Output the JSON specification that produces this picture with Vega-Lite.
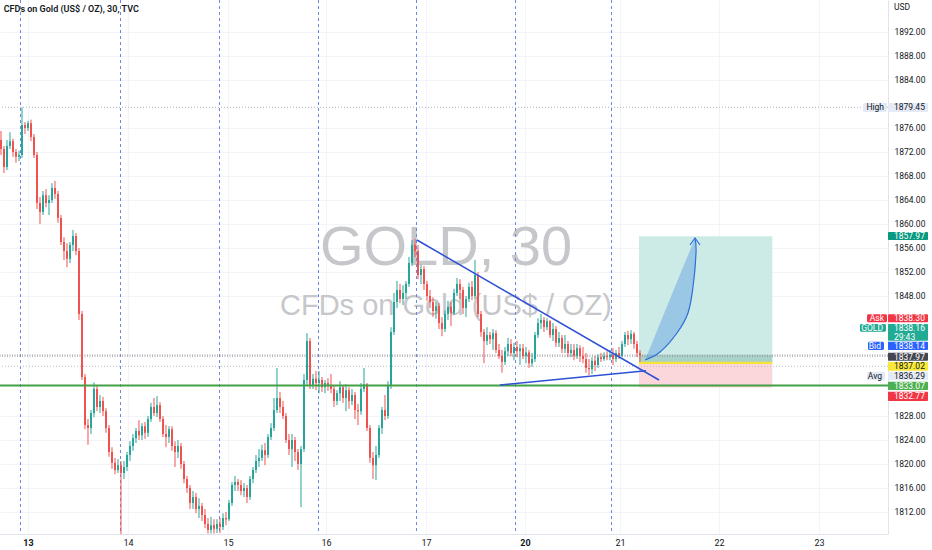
{
"$schema": "https://vega.github.io/schema/vega-lite/v6.json",
"width": 888, "height": 534, "padding": {"left":0,"top":0,"right":44,"bottom":16}, "autosize": {"type": "none"},
"background": "#ffffff",
"config": {
 "view": {"stroke": null},
 "font": "Roboto",
 "scale": {"continuousPadding": 0},
 "axisX": {"ticks": false, "domainColor": "#e0e3eb", "grid": true, "gridColor": "#f2f4f8", "labelFontSize": 9, "labelColor": "#131722", "labelPadding": 4, "labelFont": "Roboto", "labelOverlap": false, "labelFlush": false},
 "axisY": {"ticks": false, "domainColor": "#e0e3eb", "grid": true, "gridColor": "#f2f4f8", "labelFontSize": 8.5, "labelColor": "#131722", "labelPadding": 6, "labelFont": "Roboto", "labelOverlap": false, "labelFlush": false}
},
"datasets": {
 "candles": [
 {"i":0,"o":1874,"h":1875.5,"l":1871.5,"c":1872.5},
 {"i":1,"o":1872.5,"h":1873,"l":1868.5,"c":1869.5},
 {"i":2,"o":1869.5,"h":1874,"l":1869,"c":1873},
 {"i":3,"o":1873,"h":1875.3,"l":1872.5,"c":1873.8},
 {"i":4,"o":1873.8,"h":1874.2,"l":1871.2,"c":1872},
 {"i":5,"o":1872,"h":1872.5,"l":1870.2,"c":1871.2},
 {"i":6,"o":1871.2,"h":1872.2,"l":1870.5,"c":1871.5},
 {"i":7,"o":1871.5,"h":1879.45,"l":1871,"c":1876.5},
 {"i":8,"o":1876.5,"h":1877,"l":1875,"c":1876},
 {"i":9,"o":1876,"h":1877.2,"l":1875.5,"c":1876.8},
 {"i":10,"o":1876.8,"h":1877.4,"l":1873.8,"c":1874.5},
 {"i":11,"o":1874.5,"h":1875,"l":1871,"c":1871.5},
 {"i":12,"o":1871.5,"h":1872,"l":1862.5,"c":1863.5},
 {"i":13,"o":1863.5,"h":1864.5,"l":1860,"c":1862},
 {"i":14,"o":1862,"h":1865.5,"l":1861.5,"c":1864.8},
 {"i":15,"o":1864.8,"h":1865.8,"l":1862.8,"c":1863.5},
 {"i":16,"o":1863.5,"h":1864.8,"l":1861.5,"c":1864},
 {"i":17,"o":1864,"h":1866.8,"l":1863.5,"c":1866},
 {"i":18,"o":1866,"h":1867.2,"l":1864.2,"c":1865},
 {"i":19,"o":1865,"h":1865.5,"l":1860.2,"c":1861},
 {"i":20,"o":1861,"h":1861.5,"l":1856.5,"c":1857},
 {"i":21,"o":1857,"h":1857.8,"l":1854,"c":1855.5},
 {"i":22,"o":1855.5,"h":1856.8,"l":1852.8,"c":1854.2},
 {"i":23,"o":1854.2,"h":1857,"l":1853.5,"c":1856.5},
 {"i":24,"o":1856.5,"h":1859,"l":1855.5,"c":1858},
 {"i":25,"o":1858,"h":1858.5,"l":1854.8,"c":1855.5},
 {"i":26,"o":1855.5,"h":1856,"l":1844,"c":1845},
 {"i":27,"o":1845,"h":1845.5,"l":1834,"c":1834.5},
 {"i":28,"o":1834.5,"h":1835,"l":1825.8,"c":1826.5},
 {"i":29,"o":1826.5,"h":1827.5,"l":1823.2,"c":1826},
 {"i":30,"o":1826,"h":1829,"l":1825,"c":1828.5},
 {"i":31,"o":1828.5,"h":1833.6,"l":1827.8,"c":1832.5},
 {"i":32,"o":1832.5,"h":1833,"l":1828.8,"c":1829.5},
 {"i":33,"o":1829.5,"h":1831.5,"l":1828.5,"c":1830.5},
 {"i":34,"o":1830.5,"h":1831.2,"l":1828,"c":1828.8},
 {"i":35,"o":1828.8,"h":1829.3,"l":1825.2,"c":1826},
 {"i":36,"o":1826,"h":1826.5,"l":1821.2,"c":1822},
 {"i":37,"o":1822,"h":1822.8,"l":1819.2,"c":1820.2},
 {"i":38,"o":1820.2,"h":1821,"l":1818.3,"c":1819},
 {"i":39,"o":1819,"h":1820.8,"l":1818.5,"c":1819.8},
 {"i":40,"o":1819.8,"h":1820.5,"l":1808.3,"c":1818.5},
 {"i":41,"o":1818.5,"h":1820.5,"l":1817.5,"c":1819.5},
 {"i":42,"o":1819.5,"h":1822,"l":1818.8,"c":1821.5},
 {"i":43,"o":1821.5,"h":1823.8,"l":1820.5,"c":1823},
 {"i":44,"o":1823,"h":1825,"l":1822.2,"c":1824.3},
 {"i":45,"o":1824.3,"h":1826,"l":1823.5,"c":1825.5},
 {"i":46,"o":1825.5,"h":1827.3,"l":1824,"c":1824.8},
 {"i":47,"o":1824.8,"h":1826.8,"l":1824,"c":1826.3},
 {"i":48,"o":1826.3,"h":1827,"l":1824.2,"c":1825.2},
 {"i":49,"o":1825.2,"h":1828,"l":1824.5,"c":1827.5},
 {"i":50,"o":1827.5,"h":1830.2,"l":1827,"c":1829.5},
 {"i":51,"o":1829.5,"h":1831,"l":1828,"c":1828.5},
 {"i":52,"o":1828.5,"h":1831.3,"l":1827.8,"c":1829.8},
 {"i":53,"o":1829.8,"h":1830.3,"l":1827,"c":1827.5},
 {"i":54,"o":1827.5,"h":1828,"l":1824.5,"c":1825},
 {"i":55,"o":1825,"h":1826.5,"l":1822.8,"c":1824.5},
 {"i":56,"o":1824.5,"h":1826.3,"l":1823.5,"c":1825.8},
 {"i":57,"o":1825.8,"h":1826.3,"l":1822.2,"c":1823},
 {"i":58,"o":1823,"h":1823.8,"l":1819.5,"c":1822},
 {"i":59,"o":1822,"h":1824,"l":1821,"c":1823},
 {"i":60,"o":1823,"h":1823.5,"l":1819.2,"c":1820},
 {"i":61,"o":1820,"h":1820.5,"l":1816.8,"c":1817.5},
 {"i":62,"o":1817.5,"h":1818,"l":1815.2,"c":1816},
 {"i":63,"o":1816,"h":1816.5,"l":1812.5,"c":1813.5},
 {"i":64,"o":1813.5,"h":1815.5,"l":1812.5,"c":1814.5},
 {"i":65,"o":1814.5,"h":1815.2,"l":1811.8,"c":1812.5},
 {"i":66,"o":1812.5,"h":1814.3,"l":1811,"c":1813},
 {"i":67,"o":1813,"h":1813.5,"l":1810.5,"c":1811.5},
 {"i":68,"o":1811.5,"h":1812.5,"l":1809.3,"c":1810},
 {"i":69,"o":1810,"h":1811,"l":1808.4,"c":1809},
 {"i":70,"o":1809,"h":1811.2,"l":1808.4,"c":1809.8},
 {"i":71,"o":1809.8,"h":1810.8,"l":1808.4,"c":1809.2},
 {"i":72,"o":1809.2,"h":1810.8,"l":1808.5,"c":1810},
 {"i":73,"o":1810,"h":1811,"l":1808.5,"c":1809.5},
 {"i":74,"o":1809.5,"h":1811.8,"l":1809,"c":1811},
 {"i":75,"o":1811,"h":1812,"l":1809.8,"c":1810.8},
 {"i":76,"o":1810.8,"h":1814,"l":1810.5,"c":1813.5},
 {"i":77,"o":1813.5,"h":1817,"l":1813,"c":1816.5},
 {"i":78,"o":1816.5,"h":1818,"l":1815.5,"c":1817},
 {"i":79,"o":1817,"h":1817.5,"l":1815.5,"c":1816.5},
 {"i":80,"o":1816.5,"h":1817.3,"l":1814.8,"c":1815.5},
 {"i":81,"o":1815.5,"h":1816.8,"l":1814.5,"c":1816},
 {"i":82,"o":1816,"h":1816.5,"l":1813.5,"c":1814.5},
 {"i":83,"o":1814.5,"h":1818,"l":1814,"c":1817.5},
 {"i":84,"o":1817.5,"h":1819.5,"l":1816.8,"c":1819},
 {"i":85,"o":1819,"h":1821.5,"l":1818.5,"c":1820.5},
 {"i":86,"o":1820.5,"h":1822.5,"l":1819.5,"c":1821},
 {"i":87,"o":1821,"h":1823.2,"l":1820.5,"c":1822.3},
 {"i":88,"o":1822.3,"h":1823.5,"l":1819.8,"c":1821.5},
 {"i":89,"o":1821.5,"h":1825,"l":1821,"c":1824.5},
 {"i":90,"o":1824.5,"h":1826.8,"l":1824,"c":1826},
 {"i":91,"o":1826,"h":1831,"l":1825.5,"c":1829},
 {"i":92,"o":1829,"h":1836,"l":1828.5,"c":1831},
 {"i":93,"o":1831,"h":1832,"l":1828.5,"c":1829.5},
 {"i":94,"o":1829.5,"h":1830.5,"l":1827.5,"c":1828},
 {"i":95,"o":1828,"h":1828.5,"l":1823.5,"c":1824},
 {"i":96,"o":1824,"h":1825,"l":1821.5,"c":1822.5},
 {"i":97,"o":1822.5,"h":1825,"l":1819.5,"c":1824},
 {"i":98,"o":1824,"h":1824.5,"l":1820.5,"c":1822},
 {"i":99,"o":1822,"h":1822.5,"l":1819,"c":1820},
 {"i":100,"o":1820,"h":1823,"l":1812.8,"c":1822.5},
 {"i":101,"o":1822.5,"h":1835,"l":1822,"c":1834},
 {"i":102,"o":1834,"h":1841.8,"l":1833,"c":1840.5},
 {"i":103,"o":1840.5,"h":1841,"l":1832.5,"c":1833},
 {"i":104,"o":1833,"h":1835,"l":1832.5,"c":1834.2},
 {"i":105,"o":1834.2,"h":1835.5,"l":1832.3,"c":1833.5},
 {"i":106,"o":1833.5,"h":1835.5,"l":1831.8,"c":1834},
 {"i":107,"o":1834,"h":1834.5,"l":1832,"c":1832.8},
 {"i":108,"o":1832.8,"h":1834,"l":1831.8,"c":1833.5},
 {"i":109,"o":1833.5,"h":1834.3,"l":1832.2,"c":1833},
 {"i":110,"o":1833,"h":1835,"l":1831.8,"c":1832.5},
 {"i":111,"o":1832.5,"h":1833,"l":1829.5,"c":1830.5},
 {"i":112,"o":1830.5,"h":1832.3,"l":1829.8,"c":1831.8},
 {"i":113,"o":1831.8,"h":1833.8,"l":1830.5,"c":1832.8},
 {"i":114,"o":1832.8,"h":1833,"l":1830.2,"c":1831},
 {"i":115,"o":1831,"h":1833.3,"l":1828.8,"c":1832.3},
 {"i":116,"o":1832.3,"h":1832.8,"l":1829.2,"c":1830.5},
 {"i":117,"o":1830.5,"h":1832.5,"l":1829.8,"c":1831.5},
 {"i":118,"o":1831.5,"h":1832,"l":1827.5,"c":1829},
 {"i":119,"o":1829,"h":1830,"l":1826.5,"c":1828.8},
 {"i":120,"o":1828.8,"h":1833.5,"l":1828.2,"c":1832.5},
 {"i":121,"o":1832.5,"h":1836,"l":1832,"c":1833.3},
 {"i":122,"o":1833.3,"h":1833.5,"l":1825.5,"c":1826},
 {"i":123,"o":1826,"h":1826.5,"l":1820.2,"c":1821},
 {"i":124,"o":1821,"h":1822,"l":1817.5,"c":1819.8},
 {"i":125,"o":1819.8,"h":1823,"l":1817.3,"c":1821.5},
 {"i":126,"o":1821.5,"h":1826.5,"l":1821,"c":1826},
 {"i":127,"o":1826,"h":1829.5,"l":1825,"c":1829},
 {"i":128,"o":1829,"h":1831.5,"l":1827.3,"c":1828},
 {"i":129,"o":1828,"h":1833.8,"l":1827.5,"c":1833},
 {"i":130,"o":1833,"h":1842.8,"l":1832.5,"c":1842},
 {"i":131,"o":1842,"h":1848.5,"l":1841.5,"c":1847},
 {"i":132,"o":1847,"h":1850.5,"l":1846,"c":1849},
 {"i":133,"o":1849,"h":1850,"l":1846.8,"c":1847.5},
 {"i":134,"o":1847.5,"h":1849.8,"l":1846.5,"c":1848.5},
 {"i":135,"o":1848.5,"h":1850.5,"l":1847.5,"c":1850},
 {"i":136,"o":1850,"h":1854.5,"l":1849.5,"c":1853.5},
 {"i":137,"o":1853.5,"h":1857.3,"l":1853,"c":1856.5},
 {"i":138,"o":1856.5,"h":1857.5,"l":1854.5,"c":1855.5},
 {"i":139,"o":1855.5,"h":1856.5,"l":1850.8,"c":1851.5},
 {"i":140,"o":1851.5,"h":1853.2,"l":1850,"c":1852.5},
 {"i":141,"o":1852.5,"h":1853,"l":1849,"c":1850},
 {"i":142,"o":1850,"h":1850.5,"l":1847.2,"c":1848},
 {"i":143,"o":1848,"h":1849,"l":1846,"c":1847},
 {"i":144,"o":1847,"h":1847.8,"l":1844.5,"c":1845.5},
 {"i":145,"o":1845.5,"h":1847,"l":1844.2,"c":1846.3},
 {"i":146,"o":1846.3,"h":1846.8,"l":1842.5,"c":1843.5},
 {"i":147,"o":1843.5,"h":1844.5,"l":1841.3,"c":1842.5},
 {"i":148,"o":1842.5,"h":1845.6,"l":1842,"c":1845},
 {"i":149,"o":1845,"h":1847.2,"l":1844,"c":1846.2},
 {"i":150,"o":1846.2,"h":1847,"l":1843,"c":1845.2},
 {"i":151,"o":1845.2,"h":1849.2,"l":1844.8,"c":1848.5},
 {"i":152,"o":1848.5,"h":1851,"l":1848,"c":1850},
 {"i":153,"o":1850,"h":1850.8,"l":1847.5,"c":1849},
 {"i":154,"o":1849,"h":1849.5,"l":1845,"c":1846},
 {"i":155,"o":1846,"h":1848,"l":1844.5,"c":1847.5},
 {"i":156,"o":1847.5,"h":1850.2,"l":1847,"c":1849.5},
 {"i":157,"o":1849.5,"h":1850.5,"l":1847.3,"c":1848},
 {"i":158,"o":1848,"h":1854,"l":1847.5,"c":1851.5},
 {"i":159,"o":1851.5,"h":1852,"l":1844.5,"c":1845},
 {"i":160,"o":1845,"h":1845.5,"l":1841.2,"c":1842},
 {"i":161,"o":1842,"h":1842.5,"l":1836.8,"c":1840.5},
 {"i":162,"o":1840.5,"h":1842.8,"l":1839.8,"c":1841.5},
 {"i":163,"o":1841.5,"h":1842,"l":1840,"c":1840.8},
 {"i":164,"o":1840.8,"h":1842.5,"l":1839,"c":1841.8},
 {"i":165,"o":1841.8,"h":1842.3,"l":1838.5,"c":1839},
 {"i":166,"o":1839,"h":1840,"l":1837.5,"c":1838},
 {"i":167,"o":1838,"h":1839,"l":1835.2,"c":1837},
 {"i":168,"o":1837,"h":1839.5,"l":1836.5,"c":1838.8},
 {"i":169,"o":1838.8,"h":1841,"l":1838,"c":1840},
 {"i":170,"o":1840,"h":1840.8,"l":1838,"c":1838.5},
 {"i":171,"o":1838.5,"h":1840.2,"l":1837.3,"c":1839.5},
 {"i":172,"o":1839.5,"h":1840.5,"l":1837.8,"c":1838.8},
 {"i":173,"o":1838.8,"h":1840,"l":1836.5,"c":1839.3},
 {"i":174,"o":1839.3,"h":1840,"l":1837.5,"c":1838},
 {"i":175,"o":1838,"h":1839.5,"l":1836.8,"c":1838.6},
 {"i":176,"o":1838.6,"h":1839,"l":1836,"c":1836.8},
 {"i":177,"o":1836.8,"h":1838.5,"l":1836.2,"c":1837.5},
 {"i":178,"o":1837.5,"h":1842,"l":1837,"c":1841.5},
 {"i":179,"o":1841.5,"h":1844.3,"l":1841,"c":1843.5},
 {"i":180,"o":1843.5,"h":1845,"l":1842.5,"c":1844},
 {"i":181,"o":1844,"h":1844.5,"l":1842,"c":1842.8},
 {"i":182,"o":1842.8,"h":1844.3,"l":1842.3,"c":1843.8},
 {"i":183,"o":1843.8,"h":1844,"l":1841,"c":1841.5},
 {"i":184,"o":1841.5,"h":1843.5,"l":1840.5,"c":1842.5},
 {"i":185,"o":1842.5,"h":1843,"l":1839.5,"c":1840.2},
 {"i":186,"o":1840.2,"h":1842,"l":1839.5,"c":1841},
 {"i":187,"o":1841,"h":1841.5,"l":1838.5,"c":1839.2},
 {"i":188,"o":1839.2,"h":1841.5,"l":1838.5,"c":1840},
 {"i":189,"o":1840,"h":1840.5,"l":1837.8,"c":1838.5},
 {"i":190,"o":1838.5,"h":1840,"l":1837.8,"c":1839},
 {"i":191,"o":1839,"h":1840,"l":1837.3,"c":1838},
 {"i":192,"o":1838,"h":1840,"l":1837.5,"c":1839.3},
 {"i":193,"o":1839.3,"h":1839.8,"l":1837,"c":1838},
 {"i":194,"o":1838,"h":1839.5,"l":1836.8,"c":1837.5},
 {"i":195,"o":1837.5,"h":1838.5,"l":1835.2,"c":1836},
 {"i":196,"o":1836,"h":1837.5,"l":1834.8,"c":1835.8},
 {"i":197,"o":1835.8,"h":1837.8,"l":1835,"c":1837.2},
 {"i":198,"o":1837.2,"h":1838,"l":1835.5,"c":1836.5},
 {"i":199,"o":1836.5,"h":1838.3,"l":1836,"c":1837.8},
 {"i":200,"o":1837.8,"h":1838.5,"l":1837,"c":1837.5},
 {"i":201,"o":1837.5,"h":1838.6,"l":1837.2,"c":1838},
 {"i":202,"o":1838,"h":1838.8,"l":1837.3,"c":1837.8},
 {"i":203,"o":1837.8,"h":1839,"l":1837.3,"c":1838.2},
 {"i":204,"o":1838.2,"h":1839.3,"l":1836.5,"c":1837.5},
 {"i":205,"o":1837.5,"h":1839,"l":1837,"c":1838.5},
 {"i":206,"o":1838.5,"h":1839.5,"l":1837.5,"c":1838},
 {"i":207,"o":1838,"h":1840.5,"l":1837.8,"c":1840},
 {"i":208,"o":1840,"h":1842,"l":1839.5,"c":1841.5},
 {"i":209,"o":1841.5,"h":1842.2,"l":1839.8,"c":1840.8},
 {"i":210,"o":1840.8,"h":1842.3,"l":1840,"c":1841.7},
 {"i":211,"o":1841.7,"h":1842,"l":1839.2,"c":1840},
 {"i":212,"o":1840,"h":1840.5,"l":1837.8,"c":1838.5},
 {"i":213,"o":1838.5,"h":1839,"l":1837,"c":1838.16}
 ],
 "tags": [
 {"n":"high","lo":1878.67,"hi":1880.17,"tp":1879.42,"txt":"1879.45"},
 {"n":"tp","lo":1857.33,"hi":1858.67,"tp":1858.0,"txt":"1857.97"},
 {"n":"ask","lo":1843.62,"hi":1844.95,"tp":1844.28,"txt":"1838.30"},
 {"n":"gold","lo":1840.55,"hi":1843.33,"tp":1842.62,"txt":"1838.16"},
 {"n":"bid","lo":1839.0,"hi":1840.38,"tp":1839.69,"txt":"1838.14"},
 {"n":"last","lo":1837.22,"hi":1838.55,"tp":1837.88,"txt":"1837.97"},
 {"n":"entry","lo":1835.55,"hi":1837.0,"tp":1836.28,"txt":"1837.02"},
 {"n":"avg","lo":1833.95,"hi":1835.38,"tp":1834.67,"txt":"1836.29"},
 {"n":"line","lo":1832.33,"hi":1833.72,"tp":1833.02,"txt":"1833.07"},
 {"n":"stop","lo":1830.5,"hi":1832.05,"tp":1831.27,"txt":"1832.77"}
 ],
 "tagtext2": [
 {"n":"gold","tp":1841.2,"txt":"29:43"}
 ],
 "leftlabels": [
 {"n":"high","lo":1878.67,"hi":1880.17,"tp":1879.42,"a":287.33,"b":295.33,"txt":"High"},
 {"n":"ask","lo":1843.62,"hi":1844.95,"tp":1844.28,"a":288.67,"b":295.33,"txt":"Ask"},
 {"n":"gold","lo":1842.05,"hi":1843.33,"tp":1842.69,"a":286.33,"b":295.0,"txt":"GOLD"},
 {"n":"bid","lo":1839.0,"hi":1840.38,"tp":1839.69,"a":289.0,"b":294.33,"txt":"Bid"},
 {"n":"avg","lo":1833.95,"hi":1835.38,"tp":1834.67,"a":288.67,"b":294.67,"txt":"Avg"}
 ],
 "arrow": [
 {"k":0,"p":1837.33,"xl":214.67,"xr":214.67},
 {"k":1,"p":1838.67,"xl":215.77,"xr":219.67},
 {"k":2,"p":1841.83,"xl":218.37,"xr":225.33},
 {"k":3,"p":1845.17,"xl":221.1,"xr":229.0},
 {"k":4,"p":1849.5,"xl":224.63,"xr":230.67},
 {"k":5,"p":1855.17,"xl":229.3,"xr":231.67},
 {"k":6,"p":1857.67,"xl":231.33,"xr":231.33}
 ]
},
"layer": [
 {"data": {"values": [{"i":148.33,"p":1856.0,"t":"GOLD, 30"}]},
  "mark": {"type":"text","font":"Liberation Sans","fontSize":56,"color":"#c6c7ca","align":"center","baseline":"middle"},
  "encoding": {
   "x": {"field":"i","type":"quantitative","title":null,"scale":{"domain":[-0.3333,295.6667],"nice":false,"zero":false,"padding":0},
     "axis":{"values":[9,42.33,75.67,108.33,141.67,174.67,206.33,239.33,272.67],"labelOverlap":false,"tickCount":40,
       "labelExpr":"datum.value<20?'13':datum.value<60?'14':datum.value<90?'15':datum.value<120?'16':datum.value<160?'17':datum.value<190?'20':datum.value<220?'21':datum.value<250?'22':'23'",
       "labelFontWeight":{"condition":{"test":"datum.value<20 || (datum.value>170 && datum.value<180)","value":"bold"},"value":"normal"}}},
   "y": {"field":"p","type":"quantitative","title":null,"scale":{"domain":[1808.3333,1897.3333],"nice":false,"zero":false,"padding":0},
     "axis":{"orient":"right","values":[1812,1816,1820,1824,1828,1848,1852,1856,1860,1864,1868,1872,1876,1884,1888,1892],"format":".2f","labelOverlap":false,"tickCount":40}},
   "text": {"field":"t"}
  }},
 {"data": {"values": [{"i":148.33,"p":1846.4,"t":"CFDs on Gold (US$ / OZ)"}]},
  "mark": {"type":"text","font":"Liberation Sans","fontSize":29,"color":"#c6c7ca","align":"center","baseline":"middle"},
  "encoding": {"x":{"field":"i","type":"quantitative","title":null},"y":{"field":"p","type":"quantitative","title":null},"text":{"field":"t"}}},
 {"data": {"values": [{"i":6.5},{"i":39.83},{"i":72.83},{"i":105.83},{"i":138.5},{"i":171.5},{"i":203.5}]},
  "mark": {"type":"rule","color":"#6d86e0","strokeWidth":1,"strokeDash":[3,3]},
  "encoding": {"x":{"field":"i","type":"quantitative","title":null}}},
 {"data": {"values": [{"a":212.67,"b":257.1,"lo":1837.02,"hi":1857.97}]},
  "mark": {"type":"rect","color":"#cdebe6"},
  "encoding": {"x":{"field":"a","type":"quantitative","title":null},"x2":{"field":"b"},"y":{"field":"lo","type":"quantitative","title":null},"y2":{"field":"hi"}}},
 {"data": {"values": [{"a":212.67,"b":257.1,"lo":1837.02,"hi":1838.16}]},
  "mark": {"type":"rect","color":"#a9d3ca"},
  "encoding": {"x":{"field":"a","type":"quantitative","title":null},"x2":{"field":"b"},"y":{"field":"lo","type":"quantitative","title":null},"y2":{"field":"hi"}}},
 {"data": {"values": [{"a":212.67,"b":257.1,"lo":1832.77,"hi":1837.02}]},
  "mark": {"type":"rect","color":"#fbd6da"},
  "encoding": {"x":{"field":"a","type":"quantitative","title":null},"x2":{"field":"b"},"y":{"field":"lo","type":"quantitative","title":null},"y2":{"field":"hi"}}},
 {"data": {"values": [{"a":212.67,"b":257.1,"p":1836.85}]},
  "mark": {"type":"rule","color":"#f3e43a","strokeWidth":2.2},
  "encoding": {"x":{"field":"a","type":"quantitative","title":null},"x2":{"field":"b"},"y":{"field":"p","type":"quantitative","title":null}}},
 {"data": {"values": [{"p":1879.45}]},
  "mark": {"type":"rule","color":"#b2b5be","strokeWidth":1,"strokeDash":[1,2]},
  "encoding": {"y":{"field":"p","type":"quantitative","title":null}}},
 {"data": {"values": [{"p":1838.16},{"p":1837.97}]},
  "mark": {"type":"rule","color":"#9598a1","strokeWidth":1,"strokeDash":[1,1.5]},
  "encoding": {"y":{"field":"p","type":"quantitative","title":null}}},
 {"data": {"values": [{"p":1836.29}]},
  "mark": {"type":"rule","color":"#b8bbc4","strokeWidth":1,"strokeDash":[1,2]},
  "encoding": {"y":{"field":"p","type":"quantitative","title":null}}},
 {"data": {"name":"candles"},
  "mark": {"type":"rule","strokeWidth":1},
  "encoding": {"x":{"field":"i","type":"quantitative","title":null},"y":{"field":"l","type":"quantitative","title":null},"y2":{"field":"h"},
   "color":{"condition":{"test":"datum.c >= datum.o","value":"#26a69a"},"value":"#ef5350"}}},
 {"data": {"name":"candles"},
  "mark": {"type":"bar","width":2},
  "encoding": {"x":{"field":"i","type":"quantitative","title":null},"y":{"field":"o","type":"quantitative","title":null},"y2":{"field":"c"},
   "color":{"condition":{"test":"datum.c >= datum.o","value":"#26a69a"},"value":"#ef5350"}}},
 {"data": {"values": [{"p":1833.07}]},
  "mark": {"type":"rule","color":"#43a047","strokeWidth":2},
  "encoding": {"y":{"field":"p","type":"quantitative","title":null}}},
 {"data": {"values": [{"ln":"u","i":138.67,"p":1857.33},{"ln":"u","i":219.33,"p":1834.0},{"ln":"d","i":166.33,"p":1833.17},{"ln":"d","i":215.0,"p":1835.55}]},
  "mark": {"type":"line","color":"#2f50d6","strokeWidth":1.5},
  "encoding": {"x":{"field":"i","type":"quantitative","title":null},"y":{"field":"p","type":"quantitative","title":null},"detail":{"field":"ln"}}},
 {"data": {"name":"arrow"},
  "mark": {"type":"area","orient":"horizontal","color":"#5e9be0","opacity":0.45,"interpolate":"monotone"},
  "encoding": {"y":{"field":"p","type":"quantitative","title":null},"x":{"field":"xl","type":"quantitative","title":null},"x2":{"field":"xr"}}},
 {"data": {"name":"arrow"},
  "mark": {"type":"line","color":"#2f6fd8","strokeWidth":1.2,"interpolate":"cardinal"},
  "encoding": {"y":{"field":"p","type":"quantitative","title":null},"x":{"field":"xr","type":"quantitative","title":null},"order":{"field":"k"}}},
 {"data": {"values": [{"k":0,"i":229.67,"p":1856.5},{"k":1,"i":231.33,"p":1857.67},{"k":2,"i":233.0,"p":1856.5}]},
  "mark": {"type":"line","color":"#2f6fd8","strokeWidth":1.2},
  "encoding": {"x":{"field":"i","type":"quantitative","title":null},"y":{"field":"p","type":"quantitative","title":null},"order":{"field":"k"}}},
 {"data": {"name":"tags"},
  "mark": {"type":"rect","cornerRadius":1},
  "encoding": {"x":{"datum":295.67,"type":"quantitative"},"x2":{"datum":309.0},"y":{"field":"lo","type":"quantitative","title":null},"y2":{"field":"hi"},
   "fill":{"field":"n","type":"nominal","legend":null,"scale":{"domain":["high","tp","ask","gold","bid","last","entry","avg","line","stop"],"range":["#e4eaf6","#089981","#f23645","#22ab94","#2962ff","#434651","#f8e83c","#e4eaf6","#4caf50","#f23645"]}}}},
 {"data": {"name":"leftlabels"},
  "mark": {"type":"rect","cornerRadius":1.5},
  "encoding": {"x":{"field":"a","type":"quantitative","title":null},"x2":{"field":"b"},"y":{"field":"lo","type":"quantitative","title":null},"y2":{"field":"hi"},
   "fill":{"field":"n","type":"nominal","legend":null}}},
 {"data": {"name":"tags"},
  "mark": {"type":"text","align":"left","baseline":"middle","fontSize":8.5,"font":"Roboto"},
  "encoding": {"x":{"datum":297.67,"type":"quantitative"},"y":{"field":"tp","type":"quantitative","title":null},"text":{"field":"txt"},
   "color":{"field":"n","type":"nominal","legend":null,"scale":{"domain":["high","tp","ask","gold","bid","last","entry","avg","line","stop"],"range":["#131722","#ffffff","#ffffff","#ffffff","#ffffff","#ffffff","#131722","#131722","#ffffff","#ffffff"]}}}},
 {"data": {"name":"tagtext2"},
  "mark": {"type":"text","align":"left","baseline":"middle","fontSize":8.5,"font":"Roboto"},
  "encoding": {"x":{"datum":297.67,"type":"quantitative"},"y":{"field":"tp","type":"quantitative","title":null},"text":{"field":"txt"},
   "color":{"field":"n","type":"nominal","legend":null}}},
 {"data": {"name":"leftlabels"},
  "mark": {"type":"text","align":"right","baseline":"middle","fontSize":8.5,"font":"Roboto","dx":-3},
  "encoding": {"x":{"field":"b","type":"quantitative","title":null},"y":{"field":"tp","type":"quantitative","title":null},"text":{"field":"txt"},
   "color":{"field":"n","type":"nominal","legend":null}}},
 {"data": {"values": [{"i":0.9,"p":1895.75,"t":"CFDs on Gold (US$ / OZ), 30, TVC"}]},
  "mark": {"type":"text","align":"left","baseline":"middle","fontSize":9,"fontWeight":600,"font":"Roboto","color":"#131722"},
  "encoding": {"x":{"field":"i","type":"quantitative","title":null},"y":{"field":"p","type":"quantitative","title":null},"text":{"field":"t"}}},
 {"data": {"values": [{"i":297.67,"p":1896.17,"t":"USD"}]},
  "mark": {"type":"text","align":"left","baseline":"middle","fontSize":8.5,"font":"Roboto","color":"#131722"},
  "encoding": {"x":{"field":"i","type":"quantitative","title":null},"y":{"field":"p","type":"quantitative","title":null},"text":{"field":"t"}}}
]
}
